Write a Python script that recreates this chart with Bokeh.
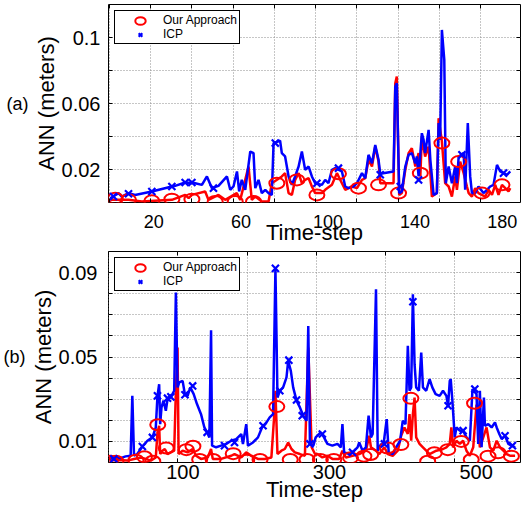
from bokeh.plotting import figure
from bokeh.models import (Range1d, LinearAxis, FixedTicker, SingleIntervalTicker, Grid,
                          Legend, LegendItem, CustomJSTickFormatter)
from bokeh.layouts import column
from bokeh.embed import file_html
from bokeh.resources import INLINE

FONT = "Liberation Sans"

# ---------------- panel (a) ----------------
a_icp = [(0.0, 0.0026), (3.8, 0.0057), (5.3, 0.0036), (8.4, 0.0057), (11.4, 0.0046), (19.1, 0.0067),
         (28.3, 0.0097), (29.8, 0.0101), (34.4, 0.0121), (39.0, 0.0117), (42.1, 0.0107), (44.4, 0.0158),
         (46.7, 0.0087), (49.7, 0.0101), (53.6, 0.0158), (55.1, 0.0077), (56.6, 0.0097), (58.2, 0.0188),
         (59.2, 0.0067), (60.4, 0.0137), (62.0, 0.0077), (64.3, 0.0309), (65.8, 0.0299), (66.6, 0.0087),
         (68.1, 0.0137), (69.6, 0.0057), (71.2, 0.0077), (72.7, 0.0057), (74.2, 0.0046), (75.0, 0.0360),
         (78.0, 0.0374), (78.8, 0.0299), (80.3, 0.0279), (81.9, 0.0158), (83.4, 0.0107), (84.9, 0.0158),
         (86.5, 0.0218), (88.0, 0.0309), (89.5, 0.0198), (91.1, 0.0218), (92.6, 0.0158), (94.1, 0.0117),
         (97.2, 0.0107), (98.7, 0.0137), (100.2, 0.0117), (101.8, 0.0198), (103.3, 0.0208), (106.4, 0.0188),
         (107.9, 0.0097), (109.4, 0.0087), (111.7, 0.0097), (113.3, 0.0117), (115.6, 0.0178), (117.1, 0.0147),
         (118.6, 0.0289), (120.2, 0.0238), (121.7, 0.0349), (123.2, 0.0259), (124.0, 0.0174), (130.1, 0.0188),
         (130.9, 0.0703), (131.6, 0.0723), (132.7, 0.0057), (133.9, 0.0067), (135.5, 0.0218), (137.0, 0.0289),
         (138.5, 0.0299), (140.1, 0.0238), (140.8, 0.0279), (141.6, 0.0158), (143.1, 0.0420), (143.9, 0.0380),
         (144.6, 0.0299), (146.2, 0.0440), (147.0, 0.0259), (148.5, 0.0046), (150.0, 0.0057), (150.8, 0.0481),
         (151.5, 0.0380), (152.3, 0.1046), (153.4, 0.0865), (154.1, 0.0117), (155.4, 0.0218), (156.9, 0.0117),
         (158.4, 0.0218), (159.2, 0.0117), (160.0, 0.0279), (162.3, 0.0299), (163.0, 0.0077), (164.2, 0.0481),
         (165.3, 0.0158), (166.1, 0.0057), (167.6, 0.0057), (169.1, 0.0097), (171.4, 0.0057), (173.0, 0.0077),
         (174.5, 0.0097), (176.0, 0.0107), (177.6, 0.0228), (179.1, 0.0188), (180.6, 0.0178), (182.2, 0.0168),
         (183.7, 0.0188)]
a_ours = [(0.0, 0.0016), (8.4, 0.0016), (14.5, 0.0006), (28.3, 0.0016), (34.4, 0.0046), (36.0, 0.0026),
          (37.5, 0.0046), (43.6, 0.0067), (45.1, 0.0016), (49.7, 0.0046), (52.8, 0.0016), (58.1, 0.0057),
          (59.7, 0.0016), (63.5, 0.0218), (65.0, 0.0016), (66.6, 0.0036), (69.6, 0.0006), (72.7, 0.0006),
          (74.2, 0.0117), (78.8, 0.0158), (80.3, 0.0178), (81.9, 0.0057), (83.4, 0.0046), (84.9, 0.0137),
          (86.5, 0.0178), (88.0, 0.0117), (89.5, 0.0137), (91.1, 0.0147), (92.6, 0.0097), (94.1, 0.0057),
          (97.2, 0.0057), (98.7, 0.0077), (101.8, 0.0107), (104.1, 0.0178), (106.4, 0.0117), (107.9, 0.0077),
          (111.0, 0.0097), (113.3, 0.0087), (115.6, 0.0137), (117.1, 0.0147), (118.6, 0.0259), (120.2, 0.0218),
          (121.7, 0.0339), (123.2, 0.0248), (124.0, 0.0117), (130.1, 0.0117), (130.9, 0.0723), (131.6, 0.0764),
          (132.7, 0.0046), (133.9, 0.0057), (135.5, 0.0198), (137.0, 0.0299), (138.5, 0.0329), (140.1, 0.0218),
          (141.6, 0.0299), (142.4, 0.0158), (143.1, 0.0400), (144.6, 0.0279), (146.2, 0.0339), (147.7, 0.0036),
          (150.0, 0.0057), (150.8, 0.0511), (152.3, 0.0370), (153.8, 0.0117), (155.4, 0.0097), (156.9, 0.0036),
          (158.4, 0.0158), (159.2, 0.0077), (160.7, 0.0248), (162.3, 0.0178), (163.8, 0.0097), (164.6, 0.0057),
          (166.1, 0.0036), (167.6, 0.0087), (169.1, 0.0057), (172.2, 0.0036), (173.7, 0.0077), (175.3, 0.0046),
          (176.8, 0.0107), (178.3, 0.0046), (179.9, 0.0107), (181.4, 0.0087), (182.9, 0.0067), (183.7, 0.0087)]
a_ours_marks = [(2.3, 0.0026), (8.4, 0.0016), (19.1, 0.0010), (28.3, 0.0020), (37.5, 0.0020), (48.2, 0.0006),
                (57.4, 0.0006), (65.8, 0.0006), (76.5, 0.0117), (85.7, 0.0137), (94.9, 0.0046), (104.8, 0.0174),
                (114.0, 0.0087), (123.2, 0.0107), (132.4, 0.0057), (142.4, 0.0178), (152.3, 0.0360),
                (160.0, 0.0248), (170.7, 0.0057), (179.9, 0.0107)]
a_icp_marks = [(1.5, 0.0036), (8.4, 0.0053), (19.1, 0.0067), (28.3, 0.0097), (34.4, 0.0121), (37.5, 0.0121),
               (47.4, 0.0087), (75.8, 0.0360), (94.9, 0.0117), (104.8, 0.0208), (124.0, 0.0168),
               (133.2, 0.0097), (141.6, 0.0137), (161.5, 0.0289), (180.6, 0.0178)]
a_xticks = [20, 60, 100, 140, 180]
a_yticks = [0.02, 0.06, 0.1]
a_ygrid = [0.02, 0.04, 0.06, 0.08, 0.1]

# ---------------- panel (b) ----------------
b_icp = [(0.0, 0.0017), (5.8, 0.0024), (15.0, 0.0021), (21.8, 0.0029), (28.7, 0.0032), (31.0, 0.0316),
         (33.3, 0.0032), (37.8, 0.0040), (44.7, 0.0076), (51.6, 0.0103), (58.4, 0.0119), (63.0, 0.0166),
         (65.3, 0.0316), (67.6, 0.0371), (69.0, 0.0182), (70.8, 0.0261), (73.5, 0.0293), (76.7, 0.0245),
         (79.0, 0.0300), (83.6, 0.0311), (88.1, 0.0340), (90.4, 0.0805), (92.7, 0.0356), (95.0, 0.0380),
         (99.6, 0.0387), (102.8, 0.0321), (106.4, 0.0316), (110.1, 0.0356), (114.7, 0.0324), (119.2, 0.0277),
         (124.7, 0.0229), (129.3, 0.0166), (133.0, 0.0143), (136.1, 0.0119), (138.4, 0.0627), (139.8, 0.0080),
         (145.3, 0.0072), (152.1, 0.0080), (159.0, 0.0088), (165.9, 0.0103), (172.7, 0.0111), (179.6, 0.0135),
         (181.9, 0.0088), (186.4, 0.0182), (188.7, 0.0080), (195.6, 0.0095), (202.4, 0.0119), (207.9, 0.0166),
         (212.5, 0.0182), (218.4, 0.0214), (223.0, 0.0229), (226.2, 0.0920), (229.0, 0.0308), (232.2, 0.0340),
         (236.7, 0.0356), (241.3, 0.0403), (243.6, 0.0482), (247.2, 0.0434), (250.4, 0.0356), (255.0, 0.0293),
         (259.6, 0.0261), (264.2, 0.0222), (268.7, 0.0198), (271.0, 0.0647), (273.3, 0.0088), (277.9, 0.0080),
         (281.1, 0.0119), (287.9, 0.0143), (292.5, 0.0119), (297.1, 0.0088), (303.9, 0.0080), (310.8, 0.0088),
         (315.4, 0.0072), (317.6, 0.0182), (319.9, 0.0048), (326.8, 0.0040), (333.7, 0.0056), (338.2, 0.0072),
         (340.5, 0.0095), (345.1, 0.0056), (349.6, 0.0072), (353.3, 0.0222), (356.5, 0.0119), (358.8, 0.0135),
         (363.4, 0.0821), (365.7, 0.0056), (370.2, 0.0088), (373.4, 0.0080), (378.0, 0.0206), (380.7, 0.0048),
         (386.2, 0.0040), (390.8, 0.0072), (396.3, 0.0103), (399.9, 0.0198), (403.6, 0.0182), (406.8, 0.0553),
         (409.1, 0.0340), (411.4, 0.0356), (413.7, 0.0797), (416.0, 0.0466), (418.2, 0.0356), (421.9, 0.0340),
         (425.1, 0.0521), (427.4, 0.0356), (431.9, 0.0340), (436.5, 0.0395), (440.2, 0.0356), (444.7, 0.0324),
         (450.2, 0.0316), (454.8, 0.0340), (459.4, 0.0316), (461.7, 0.0269), (464.0, 0.0387), (465.3, 0.0395),
         (467.6, 0.0292), (470.8, 0.0119), (473.1, 0.0166), (477.7, 0.0151), (482.2, 0.0151), (486.8, 0.0119),
         (491.4, 0.0103), (495.0, 0.0348), (500.5, 0.0324), (502.8, 0.0088), (505.1, 0.0340), (507.4, 0.0072),
         (510.6, 0.0308), (512.0, 0.0174), (516.5, 0.0182), (521.1, 0.0166), (525.7, 0.0190), (528.0, 0.0166),
         (531.6, 0.0135), (534.8, 0.0111), (539.4, 0.0127), (544.0, 0.0088), (548.5, 0.0080), (553.1, 0.0072)]
b_ours = [(0.0, 0.0009), (10.4, 0.0012), (24.1, 0.0009), (33.3, 0.0017), (42.4, 0.0024), (49.3, 0.0017),
          (56.1, 0.0009), (63.0, 0.0024), (65.3, 0.0143), (67.6, 0.0174), (69.0, 0.0040), (72.1, 0.0056),
          (75.3, 0.0064), (79.0, 0.0040), (83.6, 0.0048), (88.1, 0.0056), (90.4, 0.0340), (92.7, 0.0545),
          (94.1, 0.0040), (99.6, 0.0056), (106.4, 0.0048), (113.3, 0.0064), (117.9, 0.0032), (124.7, 0.0017),
          (133.9, 0.0024), (138.4, 0.0064), (140.7, 0.0017), (152.1, 0.0017), (165.9, 0.0032), (170.4, 0.0040),
          (179.6, 0.0024), (186.4, 0.0048), (193.3, 0.0032), (202.4, 0.0017), (211.6, 0.0017), (220.7, 0.0024),
          (225.3, 0.0261), (226.2, 0.0340), (229.0, 0.0040), (234.4, 0.0056), (239.0, 0.0064), (243.6, 0.0095),
          (248.1, 0.0064), (252.7, 0.0048), (259.6, 0.0040), (266.4, 0.0032), (271.0, 0.0545), (275.6, 0.0072),
          (280.2, 0.0040), (283.4, 0.0040), (290.2, 0.0024), (297.1, 0.0032), (303.9, 0.0017), (313.1, 0.0017),
          (317.6, 0.0056), (322.2, 0.0024), (331.4, 0.0032), (340.5, 0.0040), (349.6, 0.0056), (354.2, 0.0127),
          (356.5, 0.0072), (363.4, 0.0056), (367.9, 0.0040), (374.8, 0.0072), (379.4, 0.0040), (386.2, 0.0032),
          (393.1, 0.0056), (397.7, 0.0127), (402.2, 0.0166), (406.8, 0.0135), (409.1, 0.0229), (411.4, 0.0103),
          (413.7, 0.0229), (416.0, 0.0308), (418.2, 0.0119), (422.8, 0.0088), (427.4, 0.0072), (431.9, 0.0056),
          (436.5, 0.0040), (441.1, 0.0048), (445.7, 0.0056), (454.8, 0.0064), (459.4, 0.0072), (464.0, 0.0088),
          (466.2, 0.0166), (468.5, 0.0072), (473.1, 0.0103), (477.7, 0.0088), (482.2, 0.0103), (486.8, 0.0056),
          (491.4, 0.0032), (496.0, 0.0072), (500.5, 0.0274), (505.1, 0.0072), (509.7, 0.0119), (514.2, 0.0166),
          (518.8, 0.0072), (523.4, 0.0056), (528.0, 0.0103), (532.5, 0.0072), (537.1, 0.0056), (541.7, 0.0040),
          (546.2, 0.0032), (553.1, 0.0032)]
b_ours_marks = [(1.0, 0.0006), (8.6, 0.0006), (36.0, 0.0011), (47.5, 0.0027), (58.9, 0.0006), (65.7, 0.0179),
                (77.2, 0.0069), (104.7, 0.0061), (113.7, 0.0077), (122.9, 0.0014), (141.2, 0.0014),
                (168.6, 0.0042), (187.0, 0.0011), (205.2, 0.0014), (228.1, 0.0265), (246.4, 0.0014),
                (269.3, 0.0014), (287.5, 0.0014), (305.8, 0.0014), (328.7, 0.0022), (346.9, 0.0030),
                (356.1, 0.0038), (379.0, 0.0069), (397.3, 0.0085), (411.0, 0.0304), (433.9, 0.0006),
                (443.0, 0.0046), (461.3, 0.0061), (479.6, 0.0100), (493.3, 0.0014), (497.8, 0.0281),
                (516.2, 0.0030), (529.9, 0.0046), (548.1, 0.0030)]
b_icp_marks = [(5.8, 0.0017), (44.7, 0.0076), (58.4, 0.0119), (65.3, 0.0316), (79.0, 0.0305), (83.6, 0.0311),
               (102.8, 0.0321), (113.3, 0.0363), (133.0, 0.0143), (156.7, 0.0080), (170.4, 0.0095),
               (209.3, 0.0174), (226.2, 0.0920), (232.2, 0.0340), (244.5, 0.0485), (255.0, 0.0296),
               (262.8, 0.0222), (273.3, 0.0088), (290.2, 0.0135), (331.4, 0.0048), (374.8, 0.0088),
               (413.7, 0.0762), (461.7, 0.0269), (482.2, 0.0151), (498.2, 0.0348), (539.4, 0.0127),
               (549.5, 0.0080)]
b_xticks = [100, 300, 500]
b_yticks = [0.01, 0.05, 0.09]
b_ygrid = [0.01, 0.02, 0.03, 0.04, 0.05, 0.06, 0.07, 0.08, 0.09]


def unzip(pairs):
    return [p[0] for p in pairs], [p[1] for p in pairs]


def make_panel(tag, height, x_lab, x_tk, tk_step, ymax, xticks, yticks, ygrid,
               icp, ours, icp_marks, ours_marks, top_border, bottom_border,
               x_font, x_standoff, xlabel_standoff, y_standoff):
    p = figure(width=521, height=height, x_range=Range1d(*x_lab), y_range=Range1d(0, ymax),
               x_axis_type=None, y_axis_type=None, output_backend="svg", toolbar_location=None,
               min_border_left=100, min_border_right=1, min_border_top=top_border,
               min_border_bottom=bottom_border, background_fill_color="white",
               border_fill_color="white")
    p.outline_line_color = "black"
    p.outline_line_width = 1
    p.extra_x_ranges = {"tk": Range1d(*x_tk)}

    grid_col = "#8c8c8c"
    p.add_layout(Grid(dimension=0, x_range_name="tk",
                      ticker=SingleIntervalTicker(interval=tk_step, num_minor_ticks=0),
                      grid_line_color=grid_col, grid_line_dash="1 2", grid_line_width=1))
    p.add_layout(Grid(dimension=1, ticker=FixedTicker(ticks=ygrid),
                      grid_line_color=grid_col, grid_line_dash="1 2", grid_line_width=1))

    blank = CustomJSTickFormatter(code="return ''")

    def tick_only_x():
        return LinearAxis(x_range_name="tk",
                          ticker=SingleIntervalTicker(interval=tk_step, num_minor_ticks=0),
                          major_tick_in=4, major_tick_out=0, minor_tick_in=0, minor_tick_out=0,
                          axis_line_color=None, major_label_text_font_size="0px",
                          major_label_standoff=0, formatter=blank)

    p.add_layout(tick_only_x(), "below")
    xa = LinearAxis(ticker=FixedTicker(ticks=xticks), major_tick_in=0, major_tick_out=0,
                    minor_tick_in=0, minor_tick_out=0, axis_line_color=None,
                    major_label_text_font=FONT, major_label_text_font_size=x_font,
                    major_label_text_color="black", major_label_standoff=x_standoff,
                    axis_label="Time-step", axis_label_text_font=FONT,
                    axis_label_text_font_size="22px", axis_label_text_font_style="normal",
                    axis_label_text_color="black", axis_label_standoff=xlabel_standoff)
    p.add_layout(xa, "below")
    p.add_layout(tick_only_x(), "above")

    minor = [v for v in ygrid if v not in yticks]
    yt = FixedTicker(ticks=yticks, minor_ticks=minor)
    ya = LinearAxis(ticker=yt, major_tick_in=4, major_tick_out=0, minor_tick_in=4, minor_tick_out=0,
                    axis_line_color=None,
                    formatter=CustomJSTickFormatter(code="return String(+tick.toFixed(4))"),
                    major_label_text_font=FONT, major_label_text_font_size="20px",
                    major_label_text_color="black", major_label_standoff=y_standoff,
                    axis_label="ANN (meters)", axis_label_text_font=FONT,
                    axis_label_text_font_size="22px", axis_label_text_font_style="normal",
                    axis_label_text_color="black", axis_label_standoff=0)
    p.add_layout(ya, "left")
    # outer left axis that only carries the panel tag, e.g. "(a)"
    tag_axis = LinearAxis(ticker=FixedTicker(ticks=[]), major_tick_in=0, major_tick_out=0,
                          minor_tick_in=0, minor_tick_out=0, axis_line_color=None,
                          major_label_text_font_size="0px", major_label_standoff=0, formatter=blank,
                          axis_label=tag, axis_label_orientation="horizontal",
                          axis_label_text_font=FONT, axis_label_text_font_size="18px",
                          axis_label_text_font_style="normal", axis_label_text_color="black",
                          axis_label_standoff=2)
    p.add_layout(tag_axis, "left")
    yr = LinearAxis(ticker=FixedTicker(ticks=yticks, minor_ticks=minor), major_tick_in=4,
                    major_tick_out=0, minor_tick_in=4, minor_tick_out=0, axis_line_color=None,
                    major_label_text_font_size="0px", major_label_standoff=0, formatter=blank)
    p.add_layout(yr, "right")

    ix, iy = unzip(icp)
    ox, oy = unzip(ours)
    imx, imy = unzip(icp_marks)
    omx, omy = unzip(ours_marks)
    p.line(ox, oy, line_color="#ff0000", line_width=2.5)
    p.line(ix, iy, line_color="#0000ff", line_width=2.5)
    r_o = p.ellipse(omx, omy, width=15, height=11, width_units="screen", height_units="screen",
                    fill_color=None, line_color="#ff0000", line_width=2)
    r_x = p.scatter(imx, imy, marker="x", size=10, line_color="#0000ff", line_width=2.2)

    leg = Legend(items=[LegendItem(label="Our Approach", renderers=[r_o]),
                        LegendItem(label="ICP", renderers=[r_x])],
                 location="top_left", margin=6, padding=2, spacing=0,
                 glyph_width=46, glyph_height=13, label_height=13, label_standoff=0,
                 label_text_font=FONT, label_text_font_size="12px", label_text_color="black",
                 border_line_color="black", border_line_width=1, border_line_alpha=1,
                 background_fill_color="white", background_fill_alpha=1)
    p.add_layout(leg)
    return p


pa = make_panel("(a)", 248, (-0.8, 188.4), (-0.4, 199.4), 20, 0.12, a_xticks, a_yticks, a_ygrid,
                a_icp, a_ours, a_icp_marks, a_ours_marks, top_border=4, bottom_border=46,
                x_font="18px", x_standoff=12, xlabel_standoff=-11, y_standoff=8)
pb = make_panel("(b)", 257, (-1.5, 560.5), (-0.4, 595.6), 100, 0.1, b_xticks, b_yticks, b_ygrid,
                b_icp, b_ours, b_icp_marks, b_ours_marks, top_border=3, bottom_border=43,
                x_font="20px", x_standoff=2, xlabel_standoff=-5, y_standoff=11)

layout = column(pa, pb, spacing=0)
open("out.html", "w").write(file_html(layout, INLINE))
